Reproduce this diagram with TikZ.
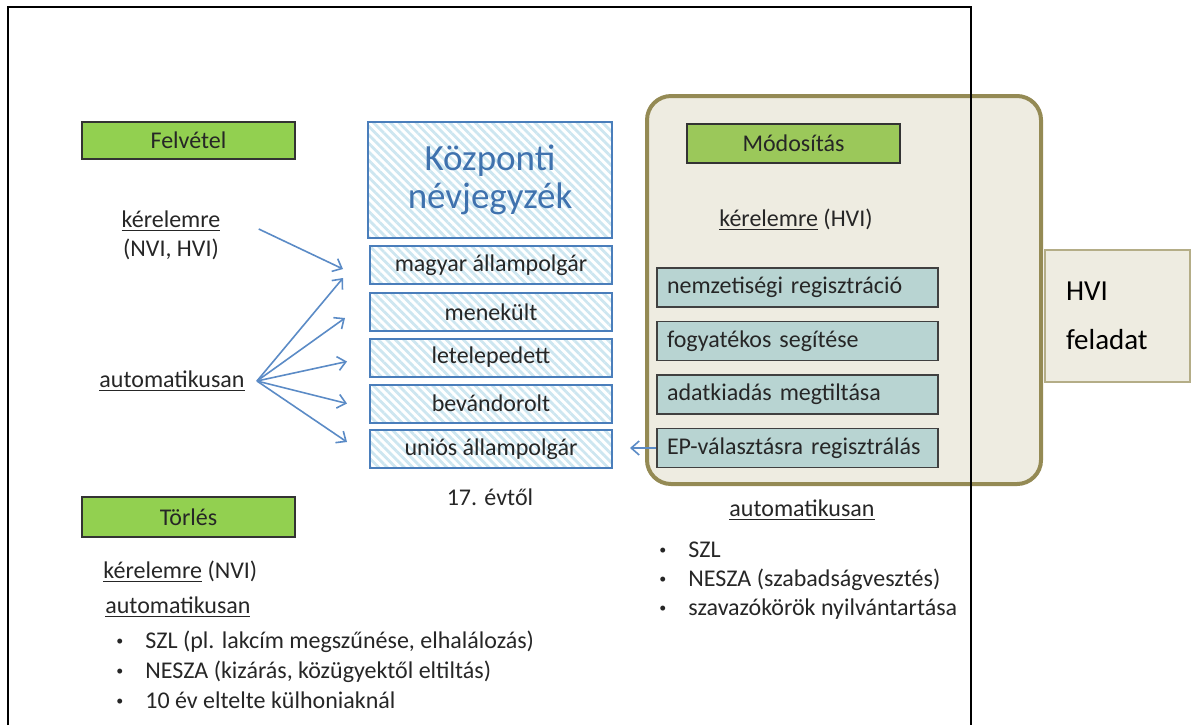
\documentclass[tikz,border=0pt]{standalone}
\usepackage{fontspec}
\setmainfont{Carlito}
\usepackage{xcolor}
\usepackage{tikz}
\usetikzlibrary{arrows.meta,patterns.meta}
\definecolor{felvgreen}{HTML}{92D050}
\definecolor{modgreen}{HTML}{9BC85A}
\definecolor{beige}{HTML}{EEECE1}
\definecolor{olive}{HTML}{948A54}
\definecolor{tealfill}{HTML}{B8D4D2}
\definecolor{boxblue}{HTML}{4A7EBB}
\definecolor{hatchblue}{HTML}{CDE6F0}
\definecolor{titleblue}{HTML}{3F72AE}
\definecolor{arrowblue}{HTML}{5B8BC6}
\definecolor{textgray}{HTML}{262626}
\newcommand{\smallbul}{\raisebox{1.5pt}{\fontsize{7}{7}\selectfont\textbullet}}
\tikzset{
textv1/.style={text=textgray, inner sep=0pt, font=\fontsize{12}{14.5}\selectfont},
greenboxv1/.style={rectangle, draw=black!80, fill=felvgreen, line width=0.8pt, inner sep=0pt, minimum width=106.5pt, minimum height=18.5pt, text=textgray, font=\fontsize{12}{14.5}\selectfont},
greenboxv2/.style={rectangle, draw=black!80, fill=modgreen, line width=0.8pt, inner sep=0pt, minimum width=106.5pt, minimum height=19.5pt, text=textgray, font=\fontsize{12}{14.5}\selectfont},
hatchboxv1/.style={rectangle, draw=boxblue, line width=1pt, pattern={Lines[angle=-45,distance=3pt,line width=1.4pt]}, pattern color=hatchblue, inner sep=0pt, minimum width=122pt, minimum height=58pt, align=center, text=titleblue, font=\fontsize{18.5}{19}\selectfont},
hatchboxv2/.style={rectangle, draw=boxblue, line width=1pt, pattern={Lines[angle=-45,distance=3pt,line width=1.4pt]}, pattern color=hatchblue, inner sep=0pt, minimum width=121pt, minimum height=19pt, text=textgray, font=\fontsize{12}{14.5}\selectfont},
tealboxv1/.style={rectangle, draw=black!75, fill=tealfill, line width=0.8pt, inner xsep=5pt, inner ysep=0pt, text width=130.5pt, align=left, minimum height=19.5pt, text=textgray, font=\fontsize{12}{14.5}\selectfont},
hviareav1/.style={rectangle, rounded corners=12pt, draw=olive, fill=beige, line width=2pt, minimum width=197pt, minimum height=194pt},
hviboxv1/.style={rectangle, draw=olive!70, fill=beige, line width=0.8pt, inner xsep=10.5pt, inner ysep=0pt, text width=51.5pt, align=left, minimum height=66pt, font=\fontsize{14.5}{17.5}\selectfont},
framev1/.style={draw=black, line width=1pt},
arrowv1/.style={-{Straight Barb[length=4pt,width=7pt]}, draw=arrowblue, line width=0.8pt},
}
\begin{document}
\begin{tikzpicture}[x=0.5pt,y=-0.5pt]
        \useasboundingbox (0,0) rectangle (1192,725);

        \node[hviareav1] at (844,290) (hvi) {};
        \node[hviboxv1] at (1117.5,316) (hvifel) {HVI\\[7pt]feladat};
        \draw[framev1] (8,725)--(8,7)--(971,7)--(971,725);

        \node[greenboxv1] at (188.5,140.5) (felv) {Felvétel};
        \node[textv1, align=center] at (171,235) (ker1) {\underline{kérelemre}\\(NVI, HVI)};
        \node[textv1] at (172,381) (auto1) {\underline{automatikusan}};

        \node[hatchboxv1] at (490,180) (kozp) {Központi\\névjegyzék};
        \node[hatchboxv2] at (491,265) (c1) {magyar állampolgár};
        \node[hatchboxv2] at (491,312) (c2) {menekült};
        \node[hatchboxv2] at (491,357.5) (c3) {letelepedett};
        \node[hatchboxv2] at (491,403.5) (c4) {bevándorolt};
        \node[hatchboxv2] at (491,449) (c5) {uniós állampolgár};
        \node[textv1] at (490,497) (evtol) {17. évtől};

        \draw[arrowv1] ([xshift=19pt,yshift=3pt]ker1.east)--([xshift=-13pt,yshift=-2pt]c1.west);
        \draw[arrowv1] ([xshift=6pt]auto1.east)--([xshift=-13pt,yshift=-6.5pt]c1.west);
        \draw[arrowv1] ([xshift=6pt]auto1.east)--([xshift=-12pt,yshift=-3pt]c2.west);
        \draw[arrowv1] ([xshift=6pt]auto1.east)--([xshift=-11pt,yshift=-2pt]c3.west);
        \draw[arrowv1] ([xshift=6pt]auto1.east)--([xshift=-11pt]c4.west);
        \draw[arrowv1] ([xshift=6pt]auto1.east)--([xshift=-11pt,yshift=3.5pt]c5.west);

        \node[greenboxv2] at (793.5,143.5) (modos) {Módosítás};
        \node[textv1] at (796,220) (ker2) {\underline{kérelemre} (HVI)};
        \node[tealboxv1] at (797.5,287.5) (t1) {nemzetiségi regisztráció};
        \node[tealboxv1] at (797.5,341) (t2) {fogyatékos segítése};
        \node[tealboxv1] at (797.5,394.5) (t3) {adatkiadás megtiltása};
        \node[tealboxv1] at (797.5,448) (t4) {EP-választásra regisztrálás};
        \coordinate (epend) at (630,448);
        \draw[arrowv1] (t4.west)--(epend);

        \node[textv1] at (802,510) (auto2) {\underline{automatikusan}};
        \node[textv1, anchor=north west] at (659,537) (lista2) {\begin{tabular}{@{}l@{\hspace{11pt}}l@{}}\smallbul & SZL\\ \smallbul & NESZA (szabadságvesztés)\\ \smallbul & szavazókörök nyilvántartása\end{tabular}};

        \node[greenboxv1, minimum height=20pt] at (188.5,517) (torles) {Törlés};
        \node[textv1, anchor=west] at (103,572) (ker3) {\underline{kérelemre} (NVI)};
        \node[textv1, anchor=west] at (105,607) (auto3) {\underline{automatikusan}};
        \node[textv1, anchor=north west, font=\fontsize{12}{15}\selectfont] at (116,627) (lista3) {\begin{tabular}{@{}l@{\hspace{11pt}}l@{}}\smallbul & SZL (pl. lakcím megszűnése, elhalálozás)\\ \smallbul & NESZA (kizárás, közügyektől eltiltás)\\ \smallbul & 10 év eltelte külhoniaknál\end{tabular}};
    \end{tikzpicture}
\end{document}
